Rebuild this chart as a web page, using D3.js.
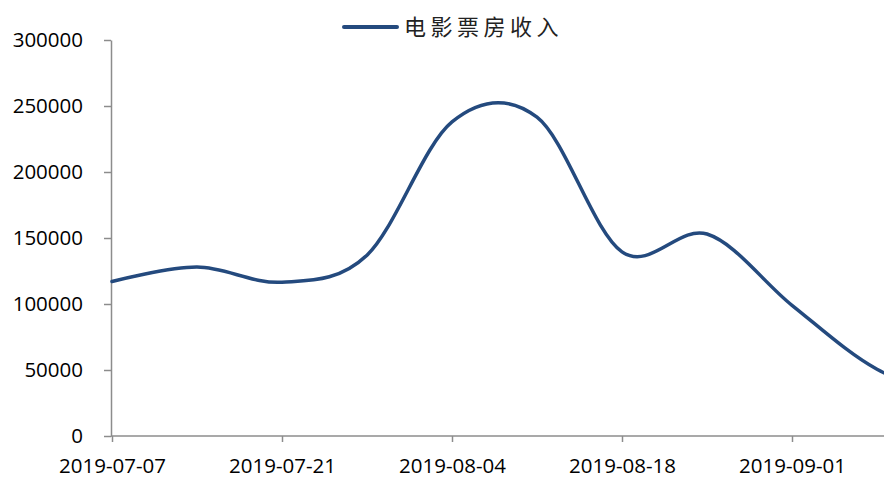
<!DOCTYPE html>
<html>
<head>
<meta charset="utf-8">
<title>电影票房收入</title>
<style>
  body { margin: 0; background: #fff; }
  svg { display: block; }
  .axis text { font-family: "Open Sans", "Liberation Sans", sans-serif; font-size: 20.5px; fill: #000; }
</style>
</head>
<body>
<svg id="chart" width="884" height="478"></svg>

<script src="https://cdn.jsdelivr.net/npm/d3@7"></script>
<script>

const seriesName = '电影票房收入';
const dates = ['2019-07-07', '2019-07-14', '2019-07-21', '2019-07-28', '2019-08-04',
    '2019-08-11', '2019-08-18', '2019-08-25', '2019-09-01', '2019-09-08', '2019-09-15'];
const values = [117000, 128000, 116500, 137000, 238000, 241500, 139500, 153000, 99000, 50500, 28000];
const xTickLabels = ['2019-07-07', '2019-07-21', '2019-08-04', '2019-08-18', '2019-09-01'];
const yTicks = [0, 50000, 100000, 150000, 200000, 250000, 300000];

const parse = d3.utcParse('%Y-%m-%d');
const fmt = d3.utcFormat('%Y-%m-%d');
const data = dates.map((d, i) => ({date: parse(d), value: values[i]}));

const svg = d3.select('#chart');
const axisColor = '#8c8c8c';
const lineColor = '#244a7e';

// one week = 85px, axis starts at 07-07
let x = d3.scaleUtc()
    .domain([parse(dates[0]), parse(dates[dates.length - 1])])
    .range([112, 112 + 85 * (dates.length - 1)]);

let y = d3.scaleLinear()
    .domain([0, 300000])
    .range([436, 40]);

// y axis
svg.append('g')
    .attr('class', 'axis y-axis')
    .attr('transform', 'translate(111,0)')
    .call(d3.axisLeft(y)
        .tickValues(yTicks)
        .tickFormat(d3.format('d'))
        .tickSize(7)
        .tickSizeOuter(0)
        .tickPadding(21))
    .call(g => g.select('.domain').attr('stroke', axisColor).attr('stroke-width', 1.5))
    .call(g => g.selectAll('.tick line').attr('stroke', axisColor).attr('stroke-width', 1.5));

// x axis
svg.append('g')
    .attr('class', 'axis x-axis')
    .attr('transform', 'translate(0,436)')
    .call(d3.axisBottom(x)
        .tickValues(xTickLabels.map(parse))
        .tickFormat(fmt)
        .tickSize(6)
        .tickSizeOuter(0)
        .tickPadding(16))
    .call(g => g.select('.domain')
        .attr('d', `M${x.range()[0] - 1},0H${x.range()[1]}`)
        .attr('stroke', axisColor).attr('stroke-width', 1.5))
    .call(g => g.selectAll('.tick line').attr('stroke', axisColor).attr('stroke-width', 1.5));

// smoothed line
const line = d3.line()
    .x(d => x(d.date))
    .y(d => y(d.value))
    .curve(d3.curveCatmullRom.alpha(0));

svg.append('path')
    .datum(data)
    .attr('fill', 'none')
    .attr('stroke', lineColor)
    .attr('stroke-width', 3.5)
    .attr('stroke-linecap', 'round')
    .attr('d', line);

// legend
const legend = svg.append('g').attr('class', 'legend').attr('transform', 'translate(344,27)');
legend.append('line')
    .attr('x1', 0).attr('x2', 53)
    .attr('y1', 0).attr('y2', 0)
    .attr('stroke', lineColor)
    .attr('stroke-width', 4)
    .attr('stroke-linecap', 'round');
legend.append('text')
    .attr('x', 60)
    .attr('y', 0)
    .attr('dy', '0.36em')
    .style('font-family', '"Noto Sans CJK SC", sans-serif')
    .style('font-size', '22px')
    .style('letter-spacing', '4.5px')
    .style('fill', '#222')
    .text(seriesName);

</script>
</body>
</html>
